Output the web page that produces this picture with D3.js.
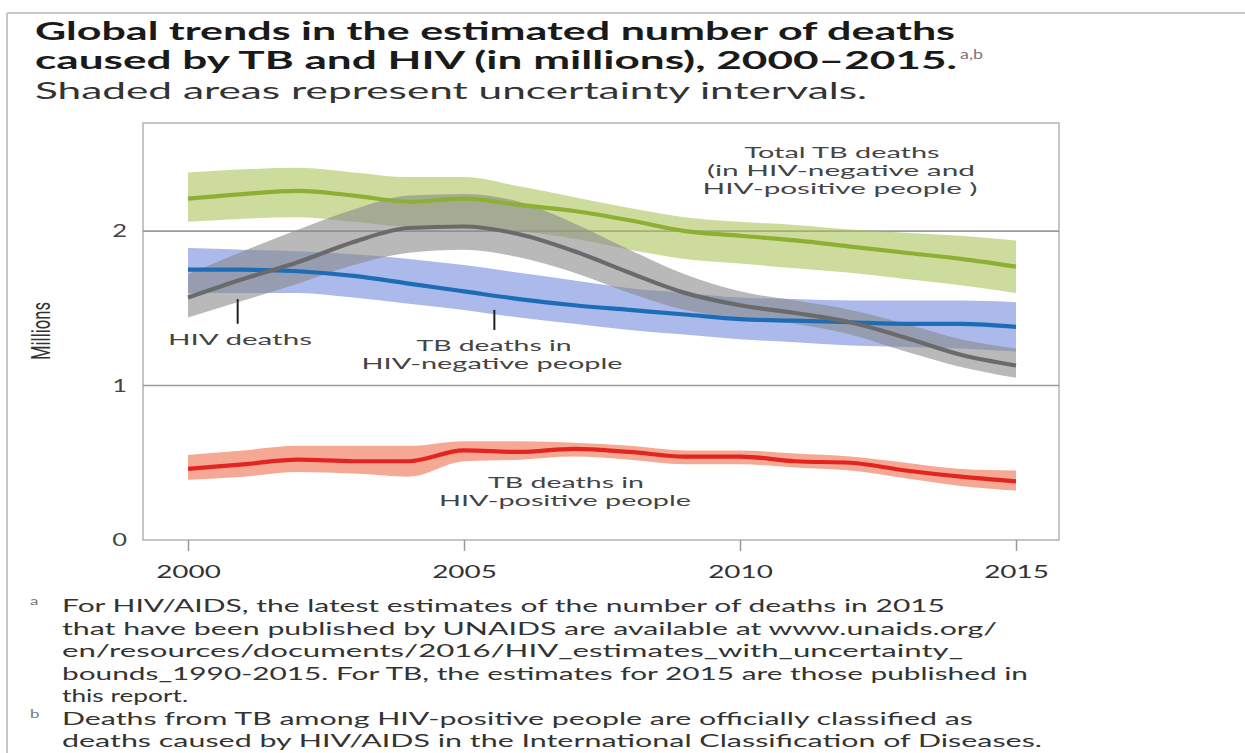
<!DOCTYPE html>
<html>
<head>
<meta charset="utf-8">
<script src="https://cdn.jsdelivr.net/npm/d3@7"></script>
<style>
  html, body { margin: 0; padding: 0; background: #fff; }
  svg { display: block; font-family: Lato, "Open Sans", "DejaVu Sans", sans-serif; }
</style>
</head>
<body>
<svg id="chart" width="1245" height="753"></svg>
<script>
// ---------------- DATA ----------------
const years = [2000, 2001, 2002, 2003, 2004, 2005, 2006, 2007, 2008, 2009, 2010, 2011, 2012, 2013, 2014, 2015];

const totalTB     = [2.21, 2.24, 2.26, 2.23, 2.19, 2.21, 2.17, 2.13, 2.07, 2.00, 1.97, 1.94, 1.90, 1.86, 1.82, 1.77];
const totalTBLow  = [2.06, 2.08, 2.09, 2.06, 2.03, 2.04, 2.00, 1.95, 1.88, 1.82, 1.79, 1.76, 1.73, 1.69, 1.65, 1.60];
const totalTBHigh = [2.38, 2.40, 2.41, 2.38, 2.35, 2.35, 2.29, 2.22, 2.15, 2.09, 2.06, 2.04, 2.01, 1.99, 1.97, 1.94];

const hivDeaths     = [1.57, 1.69, 1.80, 1.93, 2.02, 2.03, 1.98, 1.87, 1.73, 1.60, 1.52, 1.47, 1.41, 1.31, 1.20, 1.13];
const hivDeathsLow  = [1.44, 1.55, 1.66, 1.78, 1.86, 1.88, 1.83, 1.73, 1.60, 1.49, 1.44, 1.40, 1.33, 1.22, 1.12, 1.05];
const hivDeathsHigh = [1.72, 1.87, 2.01, 2.14, 2.23, 2.24, 2.19, 2.05, 1.88, 1.72, 1.61, 1.55, 1.49, 1.40, 1.30, 1.24];

const tbHivNeg     = [1.75, 1.75, 1.74, 1.71, 1.66, 1.61, 1.56, 1.52, 1.49, 1.46, 1.43, 1.42, 1.41, 1.40, 1.40, 1.38];
const tbHivNegLow  = [1.60, 1.60, 1.60, 1.57, 1.53, 1.49, 1.44, 1.40, 1.36, 1.33, 1.30, 1.28, 1.26, 1.25, 1.24, 1.22];
const tbHivNegHigh = [1.89, 1.88, 1.87, 1.85, 1.82, 1.78, 1.73, 1.68, 1.63, 1.60, 1.57, 1.56, 1.55, 1.55, 1.55, 1.54];

const tbHivPos     = [0.46, 0.49, 0.52, 0.51, 0.51, 0.58, 0.57, 0.59, 0.57, 0.54, 0.54, 0.51, 0.50, 0.45, 0.41, 0.38];
const tbHivPosLow  = [0.39, 0.41, 0.44, 0.43, 0.41, 0.51, 0.52, 0.54, 0.52, 0.49, 0.49, 0.47, 0.45, 0.40, 0.35, 0.32];
const tbHivPosHigh = [0.55, 0.58, 0.61, 0.61, 0.61, 0.64, 0.64, 0.63, 0.61, 0.58, 0.58, 0.56, 0.54, 0.50, 0.46, 0.45];

const xTickValues = [2000, 2005, 2010, 2015];
const yTickValues = [0, 1, 2];
const gridValues = [1, 2];

const titleLines = [
  "Global trends in the estimated number of deaths",
  "caused by TB and HIV (in millions), 2000\u20132015."
];
const subtitle = "Shaded areas represent uncertainty intervals.";
const footA = [
  "For HIV/AIDS, the latest estimates of the number of deaths in 2015",
  "that have been published by UNAIDS are available at www.unaids.org/",
  "en/resources/documents/2016/HIV_estimates_with_uncertainty_",
  "bounds_1990-2015. For TB, the estimates for 2015 are those published in",
  "this report."
];
const footB = [
  "Deaths from TB among HIV-positive people are officially classified as",
  "deaths caused by HIV/AIDS in the International Classification of Diseases."
];

// ---------------- DRAWING ----------------
const svg = d3.select("#chart");

const box = { left: 143, right: 1059, top: 123, bottom: 540 };
const x = d3.scaleLinear().domain([2000, 2015]).range([188, 1016]);
const y = d3.scaleLinear().domain([0, 2.7]).range([box.bottom, box.top]);

// page frame lines
svg.append("line").attr("x1", 7).attr("x2", 1245).attr("y1", 13).attr("y2", 13)
  .attr("stroke", "#c8c8c8").attr("stroke-width", 2);
svg.append("line").attr("x1", 7).attr("x2", 7).attr("y1", 13).attr("y2", 753)
  .attr("stroke", "#c8c8c8").attr("stroke-width", 2);

function txt(parent, px, py, s, o) {
  const t = parent.append("text")
    .attr("x", px).attr("y", py)
    .attr("font-size", o.size)
    .attr("font-weight", o.weight || 400)
    .attr("fill", o.fill || "#333")
    .attr("text-anchor", o.anchor || "start")
    .text(s);
  if (o.width) {
    t.attr("textLength", o.width).attr("lengthAdjust", "spacingAndGlyphs");
  } else if (o.k) {
    const w = t.node().getComputedTextLength();
    t.attr("textLength", w * o.k).attr("lengthAdjust", "spacingAndGlyphs");
  }
  return t;
}

// title
txt(svg, 35, 40, titleLines[0], { size: 24, weight: 700, fill: "#1a1a1a", width: 920 });
txt(svg, 35, 69, titleLines[1], { size: 24, weight: 700, fill: "#1a1a1a", width: 922 });
txt(svg, 960, 59, "a,b", { size: 13, fill: "#777", width: 23 });
txt(svg, 35, 99, subtitle, { size: 23, fill: "#333", width: 832 });

// plot frame
svg.append("rect")
  .attr("x", box.left).attr("y", box.top)
  .attr("width", box.right - box.left).attr("height", box.bottom - box.top)
  .attr("fill", "#fff").attr("stroke", "#b4b4b4").attr("stroke-width", 1.5);

// gridlines
svg.append("g").selectAll("line").data(gridValues).join("line")
  .attr("x1", box.left).attr("x2", box.right)
  .attr("y1", d => y(d)).attr("y2", d => y(d))
  .attr("stroke", "#9a9a9a").attr("stroke-width", 1.6);

// series
const series = [
  { v: totalTB, lo: totalTBLow, hi: totalTBHigh, band: "#a8c256", bandOp: 0.58, line: "#8bb033" },
  { v: tbHivNeg, lo: tbHivNegLow, hi: tbHivNegHigh, band: "#6f86dc", bandOp: 0.58, line: "#1d6db6" },
  { v: hivDeaths, lo: hivDeathsLow, hi: hivDeathsHigh, band: "#8a8a8a", bandOp: 0.6, line: "#6a6a6a" },
  { v: tbHivPos, lo: tbHivPosLow, hi: tbHivPosHigh, band: "#f07a5a", bandOp: 0.65, line: "#e42420" }
];

const curve = d3.curveMonotoneX;
const area = d3.area().curve(curve)
  .x(d => x(d.year)).y0(d => y(d.lo)).y1(d => y(d.hi));
const line = d3.line().curve(curve)
  .x(d => x(d.year)).y(d => y(d.v));

const rows = series.map(s => years.map((yr, i) => ({ year: yr, v: s.v[i], lo: s.lo[i], hi: s.hi[i] })));

const gBands = svg.append("g");
series.forEach((s, i) => {
  gBands.append("path").datum(rows[i]).attr("d", area)
    .attr("fill", s.band).attr("fill-opacity", s.bandOp);
});
const gLines = svg.append("g");
series.forEach((s, i) => {
  gLines.append("path").datum(rows[i]).attr("d", line)
    .attr("fill", "none").attr("stroke", s.line).attr("stroke-width", 4.2)
    .attr("stroke-linejoin", "round");
});

// x axis (ticks below frame)
const xAxis = svg.append("g").attr("transform", `translate(0,${box.bottom})`)
  .call(d3.axisBottom(x).tickValues(xTickValues).tickFormat(d3.format("d")).tickSize(11).tickPadding(14));
xAxis.select(".domain").remove();
xAxis.selectAll(".tick line").attr("stroke", "#999").attr("stroke-width", 1.5);
xAxis.selectAll(".tick text")
  .attr("font-size", 18).attr("fill", "#333").attr("font-family", "Lato, sans-serif")
  .each(function () {
    const w = this.getComputedTextLength();
    d3.select(this).attr("textLength", w * 1.55).attr("lengthAdjust", "spacingAndGlyphs");
  });

// y axis labels
const yAxis = svg.append("g").attr("transform", `translate(${box.left},0)`)
  .call(d3.axisLeft(y).tickValues(yTickValues).tickFormat(d3.format("d")).tickSize(0).tickPadding(16));
yAxis.select(".domain").remove();
yAxis.selectAll(".tick text")
  .attr("font-size", 17).attr("fill", "#444").attr("font-family", "Lato, sans-serif")
  .each(function () {
    const w = this.getComputedTextLength();
    d3.select(this).attr("textLength", w * 1.5).attr("lengthAdjust", "spacingAndGlyphs");
  });

// y axis title
svg.append("g").attr("transform", "translate(50,331) scale(1.5,1) rotate(-90)")
  .append("text").attr("text-anchor", "middle").attr("font-size", 17)
  .attr("font-family", "\"Liberation Sans Narrow\", \"Roboto\", sans-serif")
  .attr("fill", "#333").attr("textLength", 58).attr("lengthAdjust", "spacingAndGlyphs")
  .text("Millions");

// annotations
const ann = svg.append("g");
const annStyle = { size: 15, fill: "#444", anchor: "middle" };
txt(ann, 842, 158, "Total TB deaths", { ...annStyle, width: 195 });
txt(ann, 841, 176, "(in HIV-negative and", { ...annStyle, width: 268 });
txt(ann, 840, 194, "HIV-positive people )", { ...annStyle, width: 275 });

txt(ann, 168, 345, "HIV deaths", { size: 15, fill: "#444", width: 144 });
ann.append("line").attr("x1", x(2000.9)).attr("x2", x(2000.9))
  .attr("y1", y(1.56)).attr("y2", y(1.40)).attr("stroke", "#222").attr("stroke-width", 2);

txt(ann, 494, 351, "TB deaths in", { ...annStyle, width: 155 });
txt(ann, 492, 369, "HIV-negative people", { ...annStyle, width: 261 });
ann.append("line").attr("x1", x(2005.55)).attr("x2", x(2005.55))
  .attr("y1", y(1.49)).attr("y2", y(1.36)).attr("stroke", "#222").attr("stroke-width", 2);

txt(ann, 566, 488, "TB deaths in", { ...annStyle, width: 156 });
txt(ann, 565, 506, "HIV-positive people", { ...annStyle, width: 252 });

// footnotes
const foot = svg.append("g");
const footWidthsA = [883, 935, 901, 966, null];
const footWidthsB = [911, 980];
const lineStep = 22.5;
txt(foot, 30, 605, "a", { size: 12, fill: "#777", k: 1.4 });
footA.forEach((s, i) => {
  const o = { size: 17.5, fill: "#333" };
  if (footWidthsA[i]) o.width = footWidthsA[i]; else o.k = 1.5;
  txt(foot, 62, 612 + i * lineStep, s, o);
});
txt(foot, 30, 718, "b", { size: 12, fill: "#777", k: 1.4 });
footB.forEach((s, i) => {
  txt(foot, 62, 612 + (5 + i) * lineStep, s, { size: 17.5, fill: "#333", width: footWidthsB[i] });
});
</script>
</body>
</html>
